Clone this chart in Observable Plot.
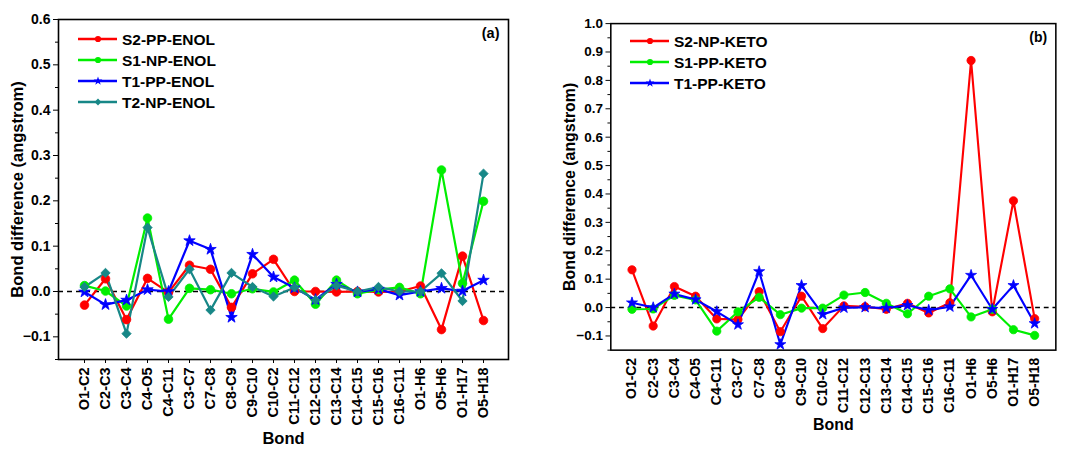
<!DOCTYPE html>
<html>
<head>
<meta charset="utf-8">
<script src="https://cdn.jsdelivr.net/npm/d3@7"></script>
<script src="https://cdn.jsdelivr.net/npm/@observablehq/plot@0.6"></script>
<style>
  html, body { margin: 0; padding: 0; background: #fff; overflow: hidden; }
  #wrap { position: relative; width: 1065px; height: 449px; overflow: hidden; font-family: "Liberation Sans", Arial, sans-serif; }
  .panel { position: absolute; top: 0; }
  .legend { position: absolute; }
</style>
</head>
<body>
<div id="wrap"></div>
<script>
// ---------- DATA ----------
const bonds = ["O1-C2","C2-C3","C3-C4","C4-O5","C4-C11","C3-C7","C7-C8","C8-C9","C9-C10","C10-C2",
               "C11-C12","C12-C13","C13-C14","C14-C15","C15-C16","C16-C11","O1-H6","O5-H6","O1-H17","O5-H18"];

// Panel (a) – ENOL
const enolNames = ["S2-PP-ENOL","S1-NP-ENOL","T1-PP-ENOL","T2-NP-ENOL"];
const s2ppEnol = [-0.030,0.028,-0.062,0.029,-0.002,0.058,0.049,-0.035,0.039,0.071,0.000,0.000,-0.001,0.000,-0.001,0.000,0.012,-0.084,0.078,-0.064];
const s1npEnol = [0.013,0.001,-0.032,0.162,-0.061,0.007,0.004,-0.005,0.006,-0.001,0.025,-0.028,0.025,-0.005,0.004,0.009,-0.005,0.268,0.018,0.199];
const t1ppEnol = [-0.001,-0.029,-0.019,0.004,0.000,0.112,0.093,-0.057,0.082,0.032,0.008,-0.018,0.016,-0.001,0.005,-0.008,0.000,0.007,0.001,0.025];
const t2npEnol = [0.010,0.041,-0.093,0.141,-0.012,0.049,-0.041,0.041,0.010,-0.011,0.009,-0.019,0.013,0.000,0.010,0.000,0.000,0.040,-0.021,0.260];

// Panel (b) – KETO
const ketoNames = ["S2-NP-KETO","S1-PP-KETO","T1-PP-KETO"];
const s2npKeto = [0.133,-0.065,0.074,0.040,-0.040,-0.042,0.056,-0.085,0.040,-0.074,0.006,0.003,-0.006,0.015,-0.019,0.017,0.870,-0.015,0.376,-0.039];
const s1ppKeto = [-0.006,-0.005,0.043,0.027,-0.083,-0.015,0.036,-0.025,-0.002,-0.002,0.044,0.053,0.015,-0.022,0.040,0.066,-0.033,-0.006,-0.078,-0.098];
const t1ppKeto = [0.017,0.000,0.048,0.028,-0.014,-0.060,0.127,-0.130,0.078,-0.024,-0.001,0.001,-0.002,0.008,-0.009,0.003,0.114,-0.006,0.078,-0.056];

const enolTicks = [-0.1,0.0,0.1,0.2,0.3,0.4,0.5,0.6];
const enolMinor = [-0.15,-0.05,0.05,0.15,0.25,0.35,0.45,0.55];
const ketoTicks = [-0.1,0.0,0.1,0.2,0.3,0.4,0.5,0.6,0.7,0.8,0.9,1.0];
const ketoMinor = [-0.15,-0.05,0.05,0.15,0.25,0.35,0.45,0.55,0.65,0.75,0.85,0.95];

const yTitle = "Bond difference (angstrom)";
const xTitle = "Bond";

const enolColors = ["#ff0000","#00ee00","#0000ff","#178787"];
const enolSymbols = ["circle","circle","star","diamond2"];
const ketoColors = ["#ff0000","#00ee00","#0000ff"];
const ketoSymbols = ["circle","circle","star"];

// ---------- BUILD ----------
function longData(names, series) {
  const out = [];
  names.forEach((n, i) => series[i].forEach((v, j) => out.push({series: n, bond: bonds[j], value: v, idx: i})));
  return out;
}

const FONT = "'Liberation Sans', Arial, sans-serif";
const font = {fontFamily: FONT, fontWeight: "bold", fontSize: "14px", background: "white", overflow: "visible"};

function panel({names, series, colors, symbols, yDomain, ticks, minor, tag, width, height, mt, mr, mb, ml, xTicks, tagDy, yTitleX, xTitleDy}) {
  const data = longData(names, series);
  const marks = [];
  marks.push(Plot.ruleY([0], {stroke: "black", strokeWidth: 1.5, strokeDasharray: "5,4"}));
  names.forEach((n, i) => {
    const d = data.filter(r => r.series === n);
    marks.push(Plot.line(d, {x: "bond", y: "value", stroke: colors[i], strokeWidth: 2.2}));
  });
  names.forEach((n, i) => {
    const d = data.filter(r => r.series === n);
    const sym = symbols[i];
    marks.push(Plot.dot(d, {x: "bond", y: "value", fill: colors[i], stroke: colors[i], symbol: () => sym,
      r: sym === "star" ? 3.6 : (sym === "diamond2" ? 4.2 : 4.3), strokeWidth: 0.8}));
  });
  marks.push(Plot.axisY({ticks: ticks, tickFormat: d3.format(".1f"), tickSize: 5, tickPadding: 3,
    fontSize: 14, fontWeight: "bold", label: null}));
  marks.push(Plot.axisY({ticks: minor, tickSize: 3, tickFormat: null, text: null, label: null}));
  marks.push(Plot.axisX({tickRotate: -90, tickSize: xTicks ? 4 : 0, tickPadding: xTicks ? 4 : 8,
    fontSize: 14.5, fontWeight: "bold", label: null}));
  marks.push(Plot.frame({stroke: "black", strokeWidth: 1.6}));
  marks.push(Plot.text([yTitle], {frameAnchor: "left", text: d => d, rotate: -90, dx: -yTitleX, fontSize: 16.5, fontWeight: "bold", textAnchor: "middle", lineAnchor: "middle"}));
  marks.push(Plot.text([xTitle], {frameAnchor: "bottom", text: d => d, dy: xTitleDy, fontSize: 16.5, fontWeight: "bold", textAnchor: "middle", lineAnchor: "middle"}));
  marks.push(Plot.text([tag], {frameAnchor: "top-right", text: d => d, dx: -9, dy: tagDy, fontSize: 14.5, fontWeight: "bold", textAnchor: "end", lineAnchor: "top"}));
  return Plot.plot({
    width, height, marginTop: mt, marginRight: mr, marginBottom: mb, marginLeft: ml,
    style: font,
    x: {type: "point", domain: bonds, padding: 1},
    y: {domain: yDomain},
    marks
  });
}

function legend(names, colors, symbols, left, top, rowH) {
  const w = 200, h = rowH * names.length + 10;
  const svg = d3.create("svg").attr("width", w).attr("height", h).attr("class", "legend")
    .style("left", left + "px").style("top", top + "px").style("overflow", "visible");
  const symMap = {circle: d3.symbolCircle, star: d3.symbolStar, diamond2: d3.symbolDiamond2};
  names.forEach((n, i) => {
    const y = 6 + i * rowH;
    svg.append("line").attr("x1", 0).attr("x2", 39).attr("y1", y).attr("y2", y)
      .attr("stroke", colors[i]).attr("stroke-width", 2.5);
    svg.append("path").attr("transform", `translate(20,${y})`)
      .attr("d", d3.symbol(symMap[symbols[i]], symbols[i] === "star" ? 24 : 30)())
      .attr("fill", colors[i]);
    svg.append("text").attr("x", 44).attr("y", y).attr("dy", "0.36em")
      .attr("font-family", FONT).attr("font-weight", "bold")
      .attr("font-size", 15.5).attr("fill", "black").text(n);
  });
  return svg.node();
}

const wrap = document.getElementById("wrap");

const pa = panel({names: enolNames, series: [s2ppEnol, s1npEnol, t1ppEnol, t2npEnol], colors: enolColors, symbols: enolSymbols,
  yDomain: [-0.15, 0.6], ticks: enolTicks, minor: enolMinor, tag: "(a)",
  width: 530, height: 449, mt: 19, mr: 22, mb: 90, ml: 58, xTicks: true, tagDy: 8, yTitleX: 41, xTitleDy: 79});
const da = document.createElement("div"); da.className = "panel"; da.style.left = "0px"; da.appendChild(pa); wrap.appendChild(da);

const pb = panel({names: ketoNames, series: [s2npKeto, s1ppKeto, t1ppKeto], colors: ketoColors, symbols: ketoSymbols,
  yDomain: [-0.15, 1.0], ticks: ketoTicks, minor: ketoMinor, tag: "(b)",
  width: 545, height: 449, mt: 24, mr: 10, mb: 86, ml: 73, xTicks: false, tagDy: 9, yTitleX: 42, xTitleDy: 78});
const db = document.createElement("div"); db.className = "panel"; db.style.left = "540px"; db.appendChild(pb); wrap.appendChild(db);

wrap.appendChild(legend(enolNames, enolColors, enolSymbols, 78, 33, 21));
wrap.appendChild(legend(ketoNames, ketoColors, ketoSymbols, 630, 35, 21));
</script>
</body>
</html>
